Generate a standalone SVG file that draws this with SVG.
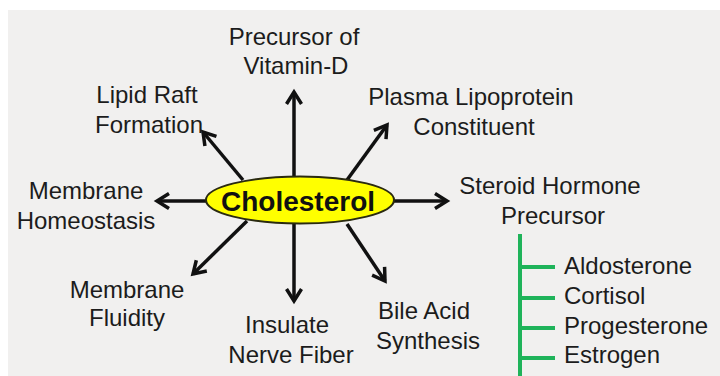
<svg xmlns="http://www.w3.org/2000/svg" width="720" height="376" viewBox="0 0 720 376">
<defs>
<style>
.lbl{font-family:"Liberation Sans",Arial,sans-serif;font-size:24px;fill:#1c1c1c;text-anchor:middle}
.lst{font-family:"Liberation Sans",Arial,sans-serif;font-size:24px;fill:#1c1c1c}
.arr{stroke:#111;stroke-width:3.5;fill:none;marker-end:url(#head)}
.grn{stroke:#1fb35a;stroke-width:4;fill:none}
</style>
<marker id="head" markerUnits="userSpaceOnUse" markerWidth="20" markerHeight="20" viewBox="0 0 20 20" refX="17" refY="10" orient="auto" overflow="visible">
<path d="M5,2.5 L17,10 L5,17.5" fill="none" stroke="#111" stroke-width="3.5" stroke-linejoin="miter"/>
</marker>
</defs>
<rect x="0" y="0" width="720" height="376" fill="#ffffff"/>
<rect x="8" y="10" width="712" height="366" fill="#f1f0ef"/>
<g id="connectors">
<line class="arr" x1="294" y1="176" x2="294" y2="92"/>
<line class="arr" x1="294" y1="223" x2="294" y2="301"/>
<line class="arr" x1="206" y1="201" x2="157" y2="201"/>
<line class="arr" x1="394" y1="201" x2="447" y2="201"/>
<line class="arr" x1="243" y1="180" x2="203" y2="132"/>
<line class="arr" x1="347" y1="180" x2="387" y2="125"/>
<line class="arr" x1="247" y1="221" x2="193" y2="274"/>
<line class="arr" x1="347" y1="224" x2="385" y2="281"/>
<g id="steroid-tree">
<line class="grn" x1="520" y1="234" x2="520" y2="376"/>
<line class="grn" x1="520" y1="267" x2="555" y2="267"/>
<line class="grn" x1="520" y1="298" x2="555" y2="298"/>
<line class="grn" x1="520" y1="328" x2="555" y2="328"/>
<line class="grn" x1="520" y1="358" x2="555" y2="358"/>
</g>
</g>
<g id="cholesterol">
<ellipse cx="300" cy="200" rx="94" ry="23.5" fill="#ffff00" stroke="#2a2a10" stroke-width="2"/>
<text x="298" y="211" font-family="'Liberation Sans',Arial,sans-serif" font-size="28" font-weight="bold" fill="#111" text-anchor="middle">Cholesterol</text>
</g>
<g id="vitamin-d"><text class="lbl" x="294" y="45">Precursor of</text><text class="lbl" x="296" y="74">Vitamin-D</text></g>
<g id="lipid-raft"><text class="lbl" x="147" y="103">Lipid Raft</text><text class="lbl" x="149" y="133">Formation</text></g>
<g id="plasma-lipoprotein"><text class="lbl" x="471" y="105">Plasma Lipoprotein</text><text class="lbl" x="474" y="135">Constituent</text></g>
<g id="steroid-hormone"><text class="lbl" x="550" y="194">Steroid Hormone</text><text class="lbl" x="553" y="224">Precursor</text></g>
<g id="membrane-homeostasis"><text class="lbl" x="86" y="199">Membrane</text><text class="lbl" x="86" y="229">Homeostasis</text></g>
<g id="membrane-fluidity"><text class="lbl" x="127" y="298">Membrane</text><text class="lbl" x="127" y="326">Fluidity</text></g>
<g id="insulate-nerve"><text class="lbl" x="287" y="333">Insulate</text><text class="lbl" x="291" y="363">Nerve Fiber</text></g>
<g id="bile-acid"><text class="lbl" x="424" y="319">Bile Acid</text><text class="lbl" x="428" y="349">Synthesis</text></g>
<g id="aldosterone"><text class="lst" x="564" y="274">Aldosterone</text></g>
<g id="cortisol"><text class="lst" x="564" y="304">Cortisol</text></g>
<g id="progesterone"><text class="lst" x="564" y="334">Progesterone</text></g>
<g id="estrogen"><text class="lst" x="564" y="363">Estrogen</text></g>
<g id="testosterone"><text class="lst" x="564" y="393" fill-opacity="0.6">Testosterone</text></g>
</svg>
